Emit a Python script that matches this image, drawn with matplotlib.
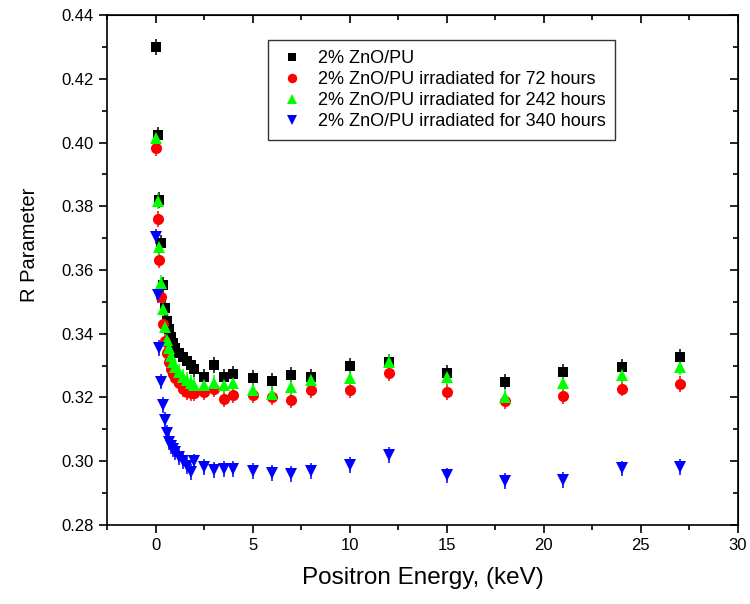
"""R parameter vs positron energy for 2% ZnO/PU before and after irradiation."""

import matplotlib

matplotlib.use("Agg")
import matplotlib.pyplot as plt
from matplotlib.lines import Line2D
from matplotlib.ticker import FormatStrFormatter, MultipleLocator

plt.rcParams["font.family"] = ["Liberation Sans", "DejaVu Sans"]

energy = [0, 0.1, 0.2, 0.3, 0.4, 0.5, 0.6, 0.7, 0.8, 0.9, 1.0, 1.2, 1.4, 1.6, 1.8, 2.0,
          2.5, 3.0, 3.5, 4.0, 5, 6, 7, 8, 10, 12, 15, 18, 21, 24, 27]

r_pristine = [0.4300, 0.4025, 0.3820, 0.3685, 0.3553, 0.3480, 0.3440, 0.3415, 0.3390, 0.3370,
              0.3355, 0.3340, 0.3328, 0.3315, 0.3302, 0.3288, 0.3265, 0.3302, 0.3265, 0.3274,
              0.3262, 0.3253, 0.3271, 0.3265, 0.3300, 0.3312, 0.3278, 0.3250, 0.3279, 0.3295,
              0.3328]
r_72h = [0.3982, 0.3760, 0.3630, 0.3515, 0.3430, 0.3378, 0.3340, 0.3310, 0.3290, 0.3275,
         0.3260, 0.3245, 0.3225, 0.3218, 0.3215, 0.3213, 0.3218, 0.3225, 0.3195, 0.3208,
         0.3208, 0.3200, 0.3192, 0.3224, 0.3223, 0.3276, 0.3218, 0.3189, 0.3205, 0.3228,
         0.3242]
r_242h = [0.4015, 0.3817, 0.3673, 0.3558, 0.3478, 0.3420, 0.3380, 0.3355, 0.3330, 0.3310,
          0.3295, 0.3280, 0.3265, 0.3255, 0.3245, 0.3240, 0.3238, 0.3245, 0.3239, 0.3245,
          0.3224, 0.3210, 0.3234, 0.3255, 0.3260, 0.3312, 0.3265, 0.3202, 0.3244, 0.3270,
          0.3294]
r_340h = [0.3705, 0.3522, 0.3355, 0.3250, 0.3176, 0.3129, 0.3088, 0.3061, 0.3046, 0.3038,
          0.3030, 0.3014, 0.3000, 0.2985, 0.2967, 0.2999, 0.2983, 0.2973, 0.2976, 0.2976,
          0.2970, 0.2963, 0.2960, 0.2970, 0.2987, 0.3019, 0.2955, 0.2938, 0.2941, 0.2977,
          0.2981]
r_err = 0.0025

series = [
    (r_pristine, "2% ZnO/PU", "black", "s", 6.5),
    (r_72h, "2% ZnO/PU irradiated for 72 hours", "red", "o", 8),
    (r_242h, "2% ZnO/PU irradiated for 242 hours", "#00ff00", "^", 8.5),
    (r_340h, "2% ZnO/PU irradiated for 340 hours", "blue", "v", 8.5),
]

fig = plt.figure(figsize=(7.5, 6.04), dpi=100)
ax = fig.add_axes([0.1427, 0.131, 0.8413, 0.844])

handles = []
for values, label, color, marker, size in series:
    ax.errorbar(energy, values, yerr=r_err, fmt=marker, color=color, ecolor=color,
                markersize=size, markeredgewidth=0, elinewidth=1.1, capsize=4,
                capthick=1.2, linestyle="none")
    handles.append(Line2D([], [], marker=marker, color=color, linestyle="none",
                          markersize=size * 0.85, markeredgewidth=0, label=label))

ax.set_xlim(-2.5, 30)
ax.set_ylim(0.28, 0.44)
ax.xaxis.set_major_locator(MultipleLocator(5))
ax.xaxis.set_minor_locator(MultipleLocator(2.5))
ax.yaxis.set_major_locator(MultipleLocator(0.02))
ax.yaxis.set_minor_locator(MultipleLocator(0.01))
ax.yaxis.set_major_formatter(FormatStrFormatter("%.2f"))

ax.tick_params(which="both", direction="out", labelsize=12, width=1.2)
ax.tick_params(which="major", length=6)
ax.tick_params(which="minor", length=3.5)
for spine in ax.spines.values():
    spine.set_linewidth(1.2)

# Origin style: ticks on the right and top point inward
sec_x = ax.secondary_xaxis("top")
sec_x.xaxis.set_major_locator(MultipleLocator(5))
sec_x.xaxis.set_minor_locator(MultipleLocator(2.5))
sec_x.tick_params(which="both", direction="in", labeltop=False, width=1.2)
sec_x.tick_params(which="major", length=6)
sec_x.tick_params(which="minor", length=3.5)
sec_y = ax.secondary_yaxis("right")
sec_y.yaxis.set_major_locator(MultipleLocator(0.02))
sec_y.yaxis.set_minor_locator(MultipleLocator(0.01))
sec_y.tick_params(which="both", direction="in", labelright=False, width=1.2)
sec_y.tick_params(which="major", length=6)
sec_y.tick_params(which="minor", length=3.5)

ax.set_xlabel("Positron Energy, (keV)", fontsize=17.5, labelpad=10)
ax.set_ylabel("R Parameter", fontsize=14.5)
ax.yaxis.set_label_coords(-0.108, 0.549)

leg = ax.legend(handles=handles, loc="upper left", bbox_to_anchor=(0.255, 0.951),
                borderaxespad=0, fontsize=13, frameon=True, fancybox=False,
                edgecolor="black", handletextpad=0.6, handlelength=1.6,
                borderpad=0.55, labelspacing=0.22)
leg.get_frame().set_linewidth(1.0)

fig.savefig("out.png", dpi=100)
